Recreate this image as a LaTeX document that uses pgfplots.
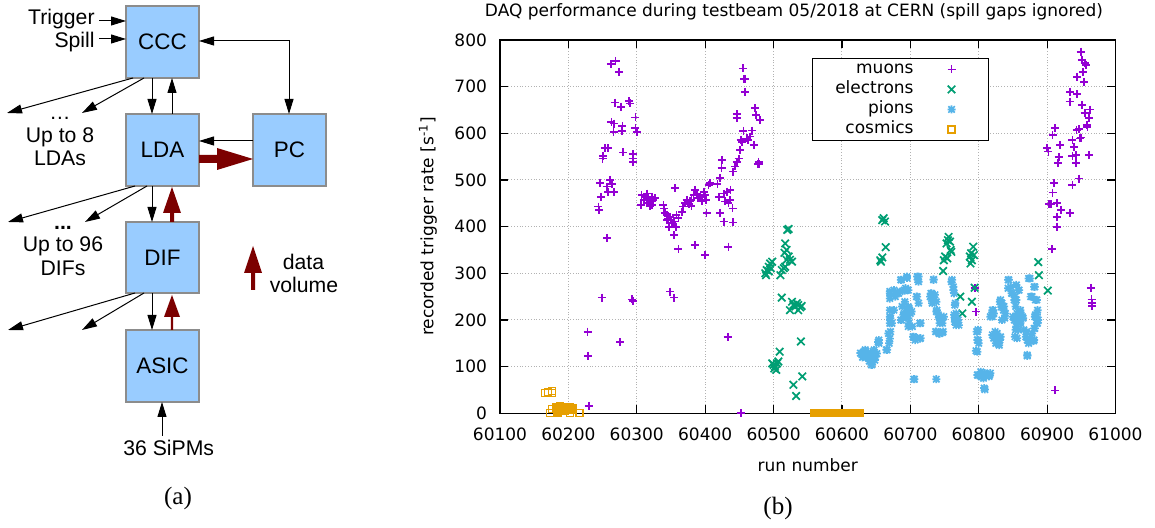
\documentclass[border=0pt]{standalone}
\usepackage{fontspec}
\setmainfont{Liberation Sans}
\newfontfamily\plotfont{DejaVu Sans}
\newfontfamily\seriffont{Liberation Serif}
\usepackage{pgfplots}
\pgfplotsset{compat=1.18}
\usetikzlibrary{arrows.meta}
\definecolor{blk}{HTML}{99CCFF}
\definecolor{blkborder}{HTML}{8C8C8C}
\definecolor{dred}{HTML}{7C0000}
\definecolor{cmuon}{HTML}{9400D3}
\definecolor{celec}{HTML}{009E73}
\definecolor{cpion}{HTML}{56B4E9}
\definecolor{ccosm}{HTML}{E69F00}
\pgfdeclareplotmark{gpx}{%
  \pgfpathmoveto{\pgfqpoint{-0.85\pgfplotmarksize}{-0.85\pgfplotmarksize}}\pgfpathlineto{\pgfqpoint{0.85\pgfplotmarksize}{0.85\pgfplotmarksize}}%
  \pgfpathmoveto{\pgfqpoint{-0.85\pgfplotmarksize}{0.85\pgfplotmarksize}}\pgfpathlineto{\pgfqpoint{0.85\pgfplotmarksize}{-0.85\pgfplotmarksize}}%
  \pgfusepathqstroke}
\pgfdeclareplotmark{gpstar}{%
  \pgfpathmoveto{\pgfqpoint{-\pgfplotmarksize}{0pt}}\pgfpathlineto{\pgfqpoint{\pgfplotmarksize}{0pt}}%
  \pgfpathmoveto{\pgfqpoint{0pt}{-\pgfplotmarksize}}\pgfpathlineto{\pgfqpoint{0pt}{\pgfplotmarksize}}%
  \pgfpathmoveto{\pgfqpoint{-0.8\pgfplotmarksize}{-0.8\pgfplotmarksize}}\pgfpathlineto{\pgfqpoint{0.8\pgfplotmarksize}{0.8\pgfplotmarksize}}%
  \pgfpathmoveto{\pgfqpoint{-0.8\pgfplotmarksize}{0.8\pgfplotmarksize}}\pgfpathlineto{\pgfqpoint{0.8\pgfplotmarksize}{-0.8\pgfplotmarksize}}%
  \pgfusepathqstroke}
\pgfplotsset{myleg/.style={legend image code/.code={\draw[##1] plot coordinates {(4pt,0pt)}; \draw[draw=none,fill=none] (0pt,-1pt) rectangle (13.5pt,1pt);}}}
\newcommand{\legtxt}[1]{\makebox[41pt][r]{#1}}
\begin{document}
\begin{tikzpicture}
\useasboundingbox (0,0) rectangle (577.5pt,264pt);
% ---------------- (a) block diagram ----------------
\begin{scope}[x=0.5pt,y=-0.5pt,shift={(0,264pt)},
  blockstyle/.style={draw=blkborder,fill=blk,line width=0.6pt},
  thinarr/.style={line width=0.5pt,-{Triangle[length=7.5pt,width=4.5pt]}},
  lbl/.style={font=\fontsize{10.6}{12}\selectfont,inner sep=0pt},
  blbl/.style={font=\fontsize{11.2}{13}\selectfont,inner sep=0pt}]
  \draw[blockstyle] (126,6) rectangle (199,78);
  \draw[blockstyle] (126,114) rectangle (199,186);
  \draw[blockstyle] (253,114) rectangle (326,186);
  \draw[blockstyle] (126,222) rectangle (199,293);
  \draw[blockstyle] (126,330) rectangle (199,402);
  \node[blbl] at (162.5,42) {CCC};
  \node[blbl] at (162.5,150) {LDA};
  \node[blbl] at (289.5,150) {PC};
  \node[blbl] at (162.5,257.5) {DIF};
  \node[blbl] at (162.5,366) {ASIC};
  % inputs
  \draw[thinarr] (99,21) -- (126,21);
  \draw[thinarr] (99,39) -- (126,39);
  \node[lbl,anchor=base east] at (95,25) {Trigger};
  \node[lbl,anchor=base east] at (95,48) {Spill};
  % CCC <-> PC
  \draw[line width=0.5pt,{Triangle[length=7.5pt,width=4.5pt]}-{Triangle[length=7.5pt,width=4.5pt]}] (199,41) -- (289,41) -- (289,114);
  % vertical arrows
  \draw[thinarr] (152,78) -- (152,114);
  \draw[thinarr] (172,114) -- (172,78);
  \draw[thinarr] (152,186) -- (152,222);
  \draw[thinarr] (152,293) -- (152,330);
  \draw[thinarr] (162,436) -- (162,402);
  \draw[thinarr] (253,141) -- (199,141);
  % fan-out arrows
  \draw[thinarr] (133,78) -- (7,113);
  \draw[thinarr] (144,78) -- (82,113);
  \draw[thinarr] (135,186) -- (8,222);
  \draw[thinarr] (147,186) -- (85,222);
  \draw[thinarr] (135,293) -- (8,330);
  \draw[thinarr] (144,293) -- (82,330);
  % data volume arrows
  \fill[dred] (199,155) -- (217,155) -- (217,148) -- (253,159) -- (217,170) -- (217,163) -- (199,163) -- cycle;
  \fill[dred] (170,222) -- (170,213) -- (163,213) -- (172,187) -- (181,213) -- (174,213) -- (174,222) -- cycle;
  \fill[dred] (170.8,330) -- (170.8,317) -- (164,317) -- (172,295) -- (180,317) -- (173.2,317) -- (173.2,330) -- cycle;
  \fill[dred] (251,290) -- (251,273) -- (244,273) -- (253,246) -- (262,273) -- (255,273) -- (255,290) -- cycle;
  % labels
  \node[lbl,anchor=base] at (60,120) {\dots};
  \node[lbl,anchor=base] at (60,143) {Up to 8};
  \node[lbl,anchor=base] at (60,166) {LDAs};
  \node[lbl,anchor=base] at (63,230) {\textbf{...}};
  \node[lbl,anchor=base] at (63,252) {Up to 96};
  \node[lbl,anchor=base] at (63,276) {DIFs};
  \node[lbl,anchor=base] at (303.5,270) {data};
  \node[lbl,anchor=base] at (304,293) {volume};
  \node[lbl,anchor=base] at (168.7,456) {36 SiPMs};
  \node[inner sep=0pt,anchor=base,font=\seriffont\fontsize{12.5}{14}\selectfont] at (178,505) {(a)};
  \node[inner sep=0pt,anchor=base,font=\seriffont\fontsize{12.5}{14}\selectfont] at (778,515) {(b)};
  \node[inner sep=0pt,anchor=base,font=\plotfont\fontsize{8.5}{10}\selectfont] at (794,17) {DAQ performance during testbeam 05/2018 at CERN (spill gaps ignored)};
\end{scope}
% ---------------- (b) scatter plot ----------------
\begin{axis}[
  at={(250pt,57.35pt)}, anchor=south west,
  scale only axis, width=307.75pt, height=186.65pt,
  xmin=60100, xmax=61000, ymin=0, ymax=800,
  xtick={60100,60200,60300,60400,60500,60600,60700,60800,60900,61000},
  ytick={0,100,200,300,400,500,600,700,800},
  scaled x ticks=false, scaled y ticks=false,
  clip=false,
  grid=major,
  major grid style={densely dotted,black!30,line width=0.5pt},
  axis line style={black,line width=0.7pt},
  tick style={black,line width=0.6pt},
  tick align=inside, major tick length=4pt,
  /pgf/number format/assume math mode=true,
  /pgf/number format/1000 sep={},
  every tick label/.append style={font=\plotfont\fontsize{8.5}{10}\selectfont},
  xticklabel style={yshift=-4pt},
  yticklabel style={xshift=-3pt},
  label style={font=\plotfont\fontsize{8.5}{10}\selectfont},
  xlabel={run number},
  xlabel style={at={(axis description cs:0.5,-0.139)},anchor=center},
  ylabel={recorded trigger rate [s\textsuperscript{-1}]},
  ylabel style={at={(axis description cs:-0.117,0.5)},anchor=center},
  legend cell align=right, legend plot pos=right,
  legend style={at={(0.507,0.952)},anchor=north west,draw=black,line width=0.5pt,
    font=\plotfont\fontsize{8.5}{10}\selectfont,row sep=0pt,inner xsep=9pt,inner ysep=0.5pt,
    nodes={inner sep=0.5pt,text height=6.7pt,text depth=2.3pt},
    column sep=14.5pt},
]
\addplot[only marks,myleg,mark=+,mark size=2pt,color=cmuon,line width=0.9pt] table {
x y
60262 748
60269 755
60274 732
60268 666
60277 657
60289 669
60290 664
60263 624
60267 621
60266 602
60279 615
60278 605
60298 634
60298 611
60300 602
60254 568
60258 568
60251 552
60250 546
60280 559
60294 555
60294 546
60295 538
60246 494
60261 500
60256 486
60264 491
60258 475
60267 474
60248 464
60244 443
60245 436
60257 376
60249 248
60293 244
60294 241
60276 152
60228 175
60229 123
60230 16
60307 468
60310 457
60312 464
60315 471
60317 461
60319 454
60322 464
60324 457
60327 461
60322 446
60315 450
60306 446
60319 444
60339 446
60340 439
60341 430
60344 425
60344 414
60346 416
60349 421
60347 400
60351 407
60355 411
60358 425
60357 400
60361 419
60355 382
60356 482
60361 352
60385 361
60400 339
60349 261
60355 248
60366 432
60368 443
60371 450
60373 457
60376 449
60378 454
60380 457
60380 445
60383 468
60385 479
60388 471
60390 461
60393 464
60395 454
60398 475
60400 468
60401 457
60402 429
60405 489
60407 493
60418 491
60420 464
60422 504
60424 525
60425 543
60427 471
60429 454
60432 475
60434 450
60436 457
60437 479
60440 439
60422 429
60427 411
60441 409
60434 357
60433 164
60441 518
60444 529
60446 539
60449 546
60451 564
60454 582
60456 605
60452 586
60461 589
60463 586
60466 593
60468 606
60471 575
60473 654
60474 639
60480 629
60478 539
60479 534
60477 534
60455 739
60457 716
60458 716
60458 688
60446 641
60446 632
60452 0
60949 775
60951 757
60955 750
60957 746
60953 732
60944 721
60954 710
60934 689
60944 684
60933 668
60951 661
60963 651
60955 643
60961 632
60958 618
60959 614
60947 609
60949 591
60948 589
60943 607
60912 611
60908 596
60919 575
60900 568
60902 561
60917 549
60916 536
60937 586
60939 571
60937 551
60942 553
60942 536
60961 553
60947 503
60937 489
60910 493
60908 473
60903 448
60906 448
60915 450
60920 436
60914 421
60915 400
60933 430
60907 352
60964 269
60965 244
60966 237
60966 230
60796 218
60912 49
60794 268
};
\addlegendentry{\legtxt{muons}}
\addplot[only marks,myleg,mark=gpx,mark size=2.2pt,color=celec,line width=0.85pt] table {
x y
60488 300
60490 307
60493 314
60495 321
60498 325
60489 296
60493 304
60496 311
60510 296
60512 307
60515 311
60517 314
60519 329
60522 336
60524 329
60527 325
60516 344
60519 350
60517 364
60520 393
60522 395
60512 248
60527 239
60529 232
60532 229
60534 236
60536 232
60539 227
60541 230
60524 221
60536 221
60498 107
60500 104
60502 100
60505 107
60507 111
60501 96
60504 93
60509 132
60540 154
60529 61
60533 37
60542 79
60661 418
60663 411
60659 414
60664 356
60656 328
60657 325
60659 334
60756 378
60755 371
60758 368
60753 364
60759 350
60751 336
60749 328
60754 332
60748 305
60760 346
60792 357
60789 343
60787 336
60790 328
60788 321
60793 339
60773 250
60776 214
60790 239
60794 269
60887 324
60888 296
60901 263
};
\addlegendentry{\legtxt{electrons}}
\addplot[only marks,myleg,mark=gpstar,mark size=2pt,color=cpion,line width=0.85pt] table {
x y
60627 129
60632 132
60637 125
60642 130
60647 136
60649 121
60644 114
60639 118
60654 150
60654 157
60644 104
60630 120
60635 133
60640 112
60629 128
60634 136
60641 125
60646 132
60651 128
60648 114
60643 104
60631 121
60638 121
60653 153
60665 136
60666 136
60669 150
60668 171
60670 160
60671 175
60673 193
60670 193
60670 207
60670 221
60670 257
60670 261
60670 246
60671 204
60676 221
60678 250
60676 264
60681 257
60683 257
60686 286
60687 286
60695 290
60685 261
60692 263
60697 264
60687 200
60692 239
60697 228
60699 221
60702 218
60697 204
60697 186
60690 211
60695 293
60691 264
60693 268
60695 264
60688 229
60691 214
60693 207
60695 221
60698 225
60700 214
60686 200
60698 193
60703 186
60705 164
60704 164
60707 157
60714 160
60710 161
60715 161
60715 193
60714 193
60710 250
60709 250
60712 236
60710 293
60712 293
60712 282
60711 286
60706 73
60705 73
60738 73
60734 286
60731 257
60731 246
60736 254
60738 239
60729 250
60730 257
60732 250
60734 243
60732 236
60734 287
60738 218
60741 211
60743 204
60743 193
60745 200
60738 175
60743 171
60748 175
60739 221
60742 207
60744 200
60747 193
60749 207
60737 175
60742 171
60747 173
60760 282
60763 264
60765 232
60767 214
60770 200
60765 196
60767 189
60761 286
60763 271
60764 257
60766 236
60764 211
60766 200
60769 193
60771 189
60765 204
60797 175
60799 179
60798 157
60796 134
60798 175
60799 157
60798 132
60800 150
60799 82
60804 78
60802 82
60809 86
60816 82
60807 75
60808 54
60803 89
60808 86
60812 82
60817 86
60815 79
60805 79
60809 51
60798 82
60819 211
60821 221
60820 207
60824 175
60826 160
60829 150
60831 157
60831 239
60833 228
60836 221
60838 204
60843 286
60843 268
60848 257
60853 250
60855 243
60858 264
60855 275
60853 200
60855 186
60853 164
60850 207
60858 179
60860 218
60862 211
60865 204
60858 207
60861 196
60873 157
60875 160
60880 155
60878 171
60870 175
60882 182
60871 123
60875 289
60882 271
60878 250
60885 243
60885 211
60887 200
60885 193
60882 207
60820 168
60822 161
60825 150
60830 146
60827 171
60832 164
60820 221
60822 214
60817 207
60832 243
60834 236
60837 229
60834 200
60839 214
60844 286
60847 271
60849 257
60852 243
60854 229
60856 214
60859 207
60861 193
60864 207
60852 200
60854 179
60856 161
60859 264
60861 221
60866 179
60869 164
60871 157
60873 150
60876 154
60881 157
60871 125
60873 289
60876 250
60881 271
60883 243
60886 221
60883 211
60885 200
60886 193
60881 182
};
\addlegendentry{\legtxt{pions}}
\addplot[only marks,myleg,mark=square,mark size=1.75pt,color=ccosm,line width=0.7pt] table {
x y
60166 44
60170 46
60176 48
60176 44
60173 0
60176 9
60185 2
60202 0
60216 0
60182 12
60184 14
60186 10
60188 15
60190 12
60192 8
60194 14
60196 10
60198 13
60200 9
60202 12
60204 8
60206 11
60187 6
60195 5
60560 0
60562 0
60564 0
60566 0
60568 0
60570 0
60572 0
60574 0
60576 0
60578 0
60580 0
60582 0
60584 0
60586 0
60588 0
60590 0
60592 0
60594 0
60596 0
60598 0
60600 0
60602 0
60604 0
60606 0
60608 0
60610 0
60612 0
60614 0
60616 0
60618 0
60620 0
60622 0
60624 0
60626 0
};
\addlegendentry{\legtxt{cosmics}}
\end{axis}
\end{tikzpicture}
\end{document}
